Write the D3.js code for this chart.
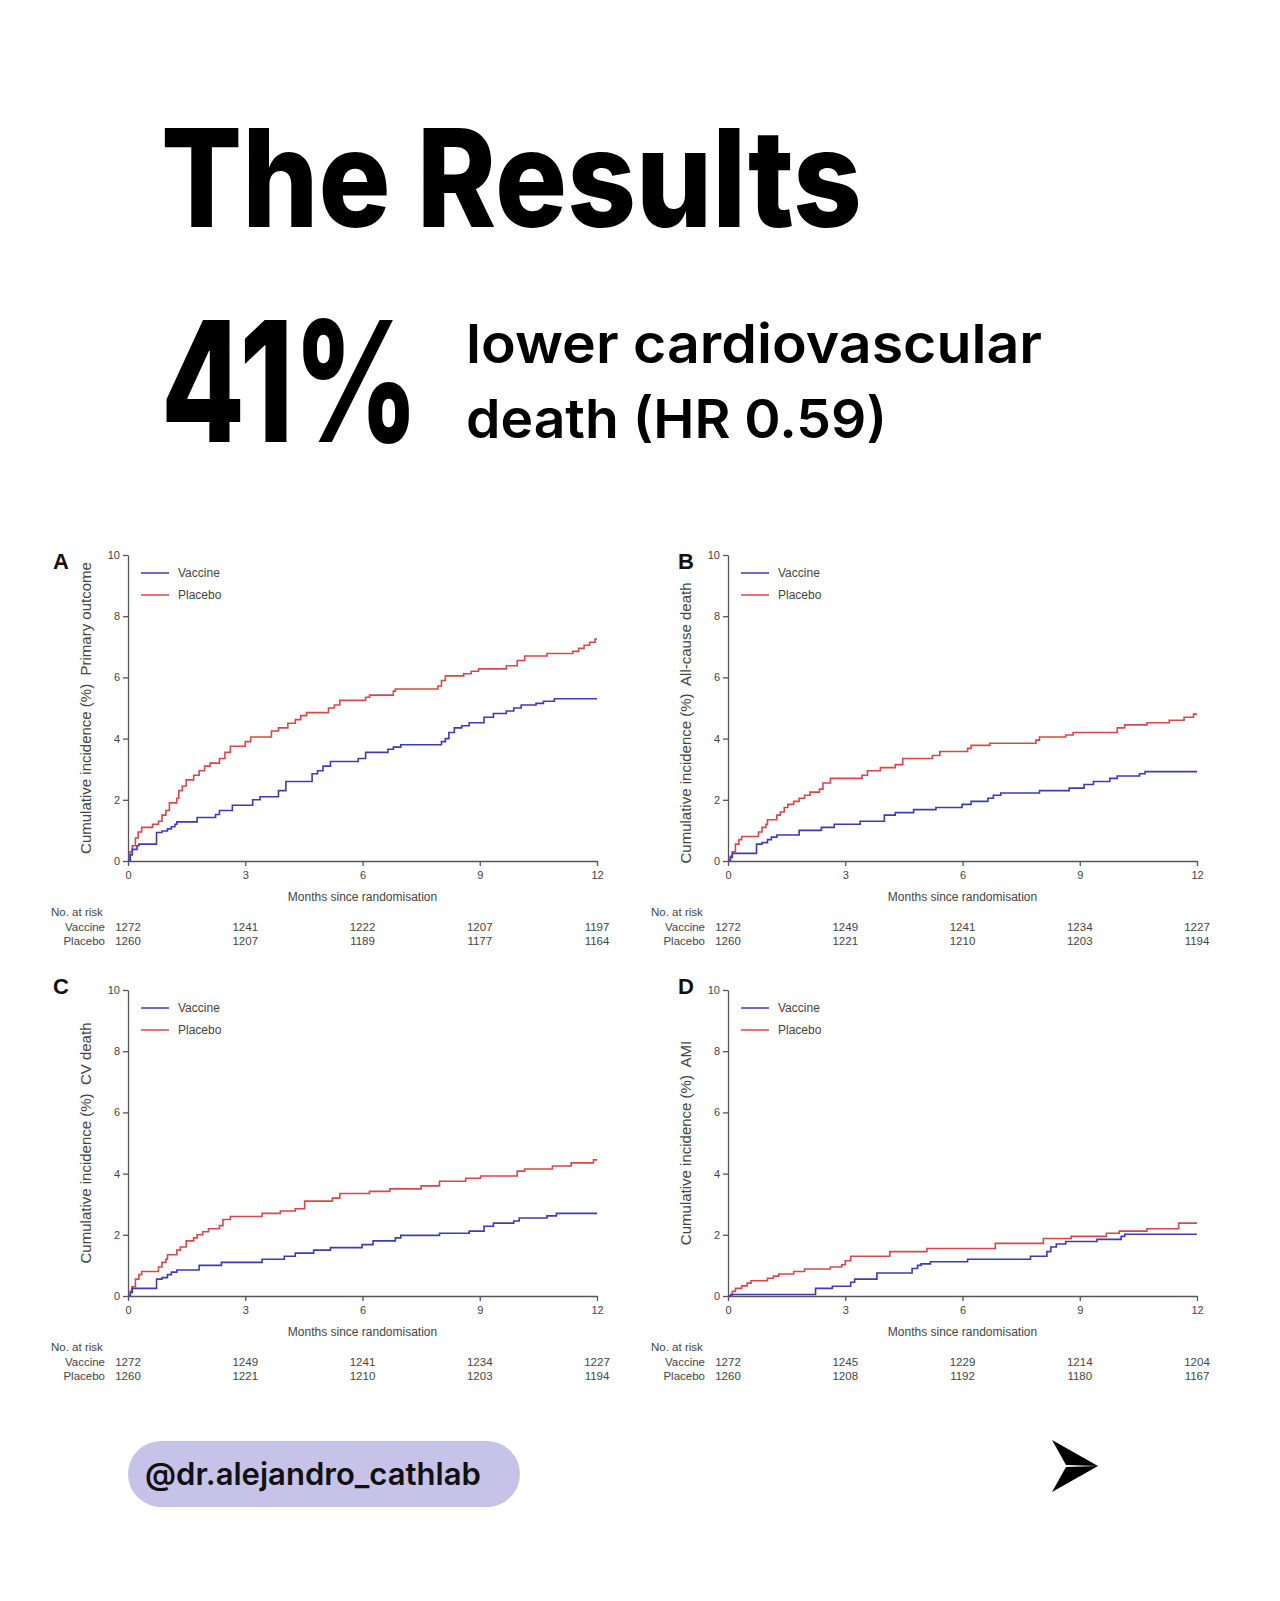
<!DOCTYPE html>
<html>
<head>
<meta charset="utf-8">
<script src="https://cdn.jsdelivr.net/npm/d3@7"></script>
<style>
  html, body { margin: 0; padding: 0; background: #fff; }
  svg { display: block; }
  .tick text { font-family: "Liberation Sans", Arial, sans-serif; fill: #444; }
  .axis path, .axis line { stroke: #555; }
  .chart-text { font-family: "Liberation Sans", Arial, sans-serif; fill: #444; }
</style>
</head>
<body>
<div id="page"></div>
<script>
// Axis ticks
const monthTicks = [0, 3, 6, 9, 12];
const incidenceTicks = [0, 2, 4, 6, 8, 10];

const panelLetters = ['A', 'B', 'C', 'D'];
const outcomeLabels = ['Primary outcome', 'All-cause death', 'CV death', 'AMI'];
const seriesNames = ['Vaccine', 'Placebo'];

// Step points: [month, cumulative incidence %]
const vaccineA = [[0,0],[0.06,0.2],[0.11,0.38],[0.23,0.5],[0.28,0.55],[0.73,0.93],[0.87,0.98],[1.01,1.05],[1.11,1.12],[1.2,1.2],[1.25,1.28],[1.77,1.42],[2.24,1.52],[2.34,1.65],[2.67,1.82],[3.19,2.0],[3.38,2.1],[3.85,2.3],[4.04,2.6],[4.71,2.85],[4.85,2.95],[4.99,3.1],[5.18,3.25],[5.89,3.35],[6.08,3.55],[6.65,3.65],[6.79,3.72],[6.98,3.8],[8.02,3.9],[8.12,4.0],[8.21,4.2],[8.35,4.35],[8.54,4.42],[8.73,4.52],[9.11,4.7],[9.35,4.82],[9.68,4.9],[9.87,5.0],[10.06,5.1],[10.44,5.15],[10.63,5.22],[10.91,5.3]];
const placeboA = [[0,0],[0.05,0.3],[0.11,0.5],[0.19,0.75],[0.26,0.95],[0.35,1.1],[0.63,1.2],[0.78,1.3],[0.87,1.5],[0.97,1.65],[1.06,1.9],[1.25,2.05],[1.3,2.3],[1.39,2.45],[1.49,2.65],[1.68,2.8],[1.82,2.95],[1.96,3.1],[2.1,3.2],[2.34,3.35],[2.48,3.55],[2.62,3.75],[3.0,3.9],[3.14,4.05],[3.67,4.25],[3.85,4.35],[4.09,4.5],[4.28,4.62],[4.42,4.75],[4.57,4.85],[5.13,5.0],[5.28,5.1],[5.42,5.25],[6.08,5.35],[6.18,5.42],[6.79,5.55],[6.84,5.62],[7.93,5.72],[8.02,5.9],[8.12,6.05],[8.59,6.12],[8.78,6.2],[8.97,6.28],[9.68,6.38],[9.96,6.55],[10.15,6.7],[10.72,6.78],[11.38,6.85],[11.53,6.95],[11.67,7.05],[11.81,7.15],[11.95,7.25]];

const vaccineB = [[0,0],[0.06,0.12],[0.11,0.25],[0.73,0.55],[0.87,0.6],[1.01,0.7],[1.11,0.78],[1.25,0.85],[1.82,1.0],[2.39,1.1],[2.72,1.2],[3.38,1.3],[4.0,1.5],[4.28,1.58],[4.75,1.68],[5.32,1.75],[5.99,1.85],[6.22,1.95],[6.65,2.05],[6.79,2.15],[6.98,2.22],[7.97,2.3],[8.73,2.38],[9.11,2.5],[9.35,2.6],[9.77,2.7],[9.96,2.78],[10.53,2.85],[10.67,2.92]];
const placeboB = [[0,0],[0.06,0.15],[0.11,0.3],[0.19,0.55],[0.28,0.7],[0.35,0.8],[0.78,0.95],[0.87,1.1],[0.97,1.2],[1.01,1.35],[1.25,1.5],[1.34,1.6],[1.44,1.75],[1.53,1.85],[1.68,1.95],[1.82,2.05],[1.96,2.15],[2.1,2.25],[2.34,2.35],[2.43,2.55],[2.62,2.7],[3.43,2.8],[3.57,2.95],[3.9,3.05],[4.28,3.15],[4.47,3.35],[5.23,3.45],[5.42,3.58],[6.13,3.68],[6.22,3.78],[6.7,3.85],[7.88,3.95],[7.97,4.05],[8.64,4.12],[8.83,4.2],[9.96,4.35],[10.15,4.45],[10.72,4.52],[11.29,4.6],[11.67,4.7],[11.91,4.8]];

const vaccineC = [[0,0],[0.06,0.12],[0.11,0.25],[0.73,0.55],[0.87,0.6],[1.01,0.7],[1.11,0.78],[1.25,0.85],[1.82,1.0],[2.39,1.1],[3.43,1.2],[4.0,1.3],[4.28,1.4],[4.75,1.5],[5.18,1.58],[5.99,1.68],[6.27,1.8],[6.84,1.9],[6.98,1.98],[7.97,2.05],[8.73,2.12],[9.11,2.28],[9.35,2.38],[9.87,2.45],[10.01,2.55],[10.72,2.62],[10.96,2.7]];
const placeboC = [[0,0],[0.06,0.15],[0.1,0.3],[0.19,0.55],[0.28,0.7],[0.35,0.8],[0.78,0.95],[0.87,1.1],[0.97,1.2],[1.01,1.35],[1.25,1.5],[1.34,1.6],[1.49,1.8],[1.68,1.9],[1.77,2.0],[1.91,2.1],[2.06,2.2],[2.34,2.3],[2.43,2.5],[2.62,2.6],[3.43,2.7],[3.9,2.78],[4.28,2.85],[4.52,3.1],[5.23,3.2],[5.42,3.35],[6.18,3.42],[6.7,3.5],[7.5,3.6],[7.97,3.75],[8.64,3.85],[9.02,3.92],[9.96,4.08],[10.15,4.15],[10.86,4.25],[11.34,4.35],[11.91,4.45]];

const vaccineD = [[0,0],[0.07,0.05],[2.24,0.25],[2.67,0.32],[3.14,0.45],[3.24,0.55],[3.81,0.75],[4.71,0.9],[4.85,1.0],[4.94,1.05],[5.18,1.12],[6.13,1.2],[7.74,1.3],[8.16,1.45],[8.26,1.6],[8.4,1.7],[8.64,1.78],[9.44,1.85],[10.06,1.95],[10.15,2.02]];
const placeboD = [[0,0],[0.11,0.15],[0.19,0.25],[0.35,0.33],[0.49,0.42],[0.59,0.5],[1.01,0.58],[1.16,0.65],[1.3,0.72],[1.68,0.8],[1.96,0.88],[2.62,0.95],[2.91,1.02],[3.0,1.15],[3.14,1.3],[4.14,1.45],[5.09,1.55],[6.84,1.72],[8.07,1.88],[8.78,1.95],[9.68,2.05],[10.01,2.12],[10.72,2.2],[11.53,2.38]];

// Numbers at risk at 0, 3, 6, 9, 12 months
const riskVaccineA = [1272, 1241, 1222, 1207, 1197];
const riskPlaceboA = [1260, 1207, 1189, 1177, 1164];
const riskVaccineB = [1272, 1249, 1241, 1234, 1227];
const riskPlaceboB = [1260, 1221, 1210, 1203, 1194];
const riskVaccineC = [1272, 1249, 1241, 1234, 1227];
const riskPlaceboC = [1260, 1221, 1210, 1203, 1194];
const riskVaccineD = [1272, 1245, 1229, 1214, 1204];
const riskPlaceboD = [1260, 1208, 1192, 1180, 1167];

const panels = [
  { letter: panelLetters[0], label: outcomeLabels[0], vaccine: vaccineA, placebo: placeboA, riskV: riskVaccineA, riskP: riskPlaceboA, ox: 128, oy: 861, lx: -67, ly: 14, ty: 0 },
  { letter: panelLetters[1], label: outcomeLabels[1], vaccine: vaccineB, placebo: placeboB, riskV: riskVaccineB, riskP: riskPlaceboB, ox: 728, oy: 861, lx: -42, ly: 14, ty: 15 },
  { letter: panelLetters[2], label: outcomeLabels[2], vaccine: vaccineC, placebo: placeboC, riskV: riskVaccineC, riskP: riskPlaceboC, ox: 128, oy: 1296, lx: -67, ly: 4, ty: 0 },
  { letter: panelLetters[3], label: outcomeLabels[3], vaccine: vaccineD, placebo: placeboD, riskV: riskVaccineD, riskP: riskPlaceboD, ox: 728, oy: 1296, lx: -42, ly: 4, ty: 0 }
];

const colors = { Vaccine: '#3c3cb4', Placebo: '#d8484a' };
const W = 1280, H = 1601;
const plotW = 469, plotH = 306;

const svg = d3.select('#page')
  .append('svg')
  .attr('width', W)
  .attr('height', H)
  .attr('viewBox', `0 0 ${W} ${H}`);

svg.append('rect').attr('width', W).attr('height', H).attr('fill', '#fff');

// Big header text, squeezed horizontally to the reference width
function headline(str, x, y, size, weight, targetW) {
  const t = svg.append('text')
    .style('font-family', 'Inter, "Liberation Sans", sans-serif')
    .style('font-weight', weight)
    .style('font-size', size + 'px')
    .style('fill', '#000')
    .text(str);
  const natural = t.node().getComputedTextLength();
  t.attr('transform', `translate(${x},${y}) scale(${targetW / natural},1)`);
  return t;
}

headline('The Results', 161, 227, 136, 800, 701);
headline('41%', 161, 442, 168, 800, 258);
headline('lower cardiovascular', 466, 363, 54, 600, 576);
headline('death (HR 0.59)', 466, 438, 54, 600, 421);

// Draw one Kaplan-Meier style panel
function drawPanel(p) {
  const g = svg.append('g').attr('transform', `translate(${p.ox},${p.oy - plotH})`);

  const x = d3.scaleLinear().domain([0, 12]).range([0, plotW]);
  const y = d3.scaleLinear().domain([0, 10]).range([plotH, 0]);

  g.append('g')
    .attr('class', 'axis')
    .attr('transform', `translate(0,${plotH})`)
    .call(d3.axisBottom(x).tickValues(monthTicks).tickSize(5).tickPadding(5).tickSizeOuter(0))
    .call(a => a.selectAll('text').style('font-size', '11px'))
    .call(a => a.selectAll('path, line').style('stroke-width', 1.3));

  g.append('g')
    .attr('class', 'axis')
    .call(d3.axisLeft(y).tickValues(incidenceTicks).tickSize(5).tickPadding(3).tickSizeOuter(0))
    .call(a => a.selectAll('text').style('font-size', '11px'))
    .call(a => a.selectAll('path, line').style('stroke-width', 1.3));

  // curves
  const line = d3.line()
    .x(d => x(d[0]))
    .y(d => y(d[1]))
    .curve(d3.curveStepAfter);

  [['Placebo', p.placebo], ['Vaccine', p.vaccine]].forEach(([name, pts]) => {
    const full = pts.concat([[12, pts[pts.length - 1][1]]]);
    g.append('path')
      .datum(full)
      .attr('fill', 'none')
      .attr('stroke', colors[name])
      .attr('stroke-width', 1.6)
      .attr('d', line);
  });

  // legend
  seriesNames.forEach((name, i) => {
    const ly = 18 + i * 22;
    g.append('line')
      .attr('x1', 13).attr('x2', 41)
      .attr('y1', ly).attr('y2', ly)
      .attr('stroke', colors[name])
      .attr('stroke-width', 1.5);
    g.append('text')
      .attr('class', 'chart-text')
      .attr('x', 50).attr('y', ly + 4)
      .style('font-size', '12px')
      .text(name);
  });

  // panel letter
  g.append('text')
    .attr('x', p.lx).attr('y', p.ly)
    .attr('text-anchor', 'middle')
    .style('font-family', '"Liberation Sans", Arial, sans-serif')
    .style('font-weight', 700)
    .style('font-size', '22px')
    .style('fill', '#111')
    .text(p.letter);

  // y title
  g.append('text')
    .attr('class', 'chart-text')
    .attr('transform', `translate(-37,${plotH / 2 + p.ty}) rotate(-90)`)
    .attr('text-anchor', 'middle')
    .style('font-size', '15px')
    .style('white-space', 'pre')
    .text(`Cumulative incidence (%)  ${p.label}`);

  // x title
  g.append('text')
    .attr('class', 'chart-text')
    .attr('x', plotW / 2).attr('y', plotH + 40)
    .attr('text-anchor', 'middle')
    .style('font-size', '12px')
    .text('Months since randomisation');

  // numbers at risk
  g.append('text')
    .attr('class', 'chart-text')
    .attr('x', -77).attr('y', plotH + 55)
    .style('font-size', '11.5px')
    .text('No. at risk');

  [['Vaccine', p.riskV], ['Placebo', p.riskP]].forEach(([name, vals], i) => {
    const ry = plotH + 70 + i * 14;
    g.append('text')
      .attr('class', 'chart-text')
      .attr('x', -23).attr('y', ry)
      .attr('text-anchor', 'end')
      .style('font-size', '11.5px')
      .text(name);
    g.selectAll(null)
      .data(vals)
      .enter()
      .append('text')
      .attr('class', 'chart-text')
      .attr('x', (d, j) => x(monthTicks[j]))
      .attr('y', ry)
      .attr('text-anchor', 'middle')
      .style('font-size', '11.5px')
      .text(d => d);
  });
}

panels.forEach(drawPanel);

// Footer handle pill
svg.append('rect')
  .attr('x', 128).attr('y', 1441)
  .attr('width', 392).attr('height', 66)
  .attr('rx', 33)
  .attr('fill', '#c7c2e8');

const handle = svg.append('text')
  .style('font-family', 'Inter, "Liberation Sans", sans-serif')
  .style('font-weight', 600)
  .style('font-size', '31px')
  .style('fill', '#111')
  .text('@dr.alejandro_cathlab');
handle.attr('transform', `translate(145,1485) scale(${336 / handle.node().getComputedTextLength()},1)`);

// Arrow glyph
svg.append('path')
  .attr('d', 'M1052,1440 L1098,1466 L1066,1465 Z')
  .attr('fill', '#000');
svg.append('path')
  .attr('d', 'M1066,1467 L1098,1466 L1052,1492 Z')
  .attr('fill', '#000');
</script>
</body>
</html>
